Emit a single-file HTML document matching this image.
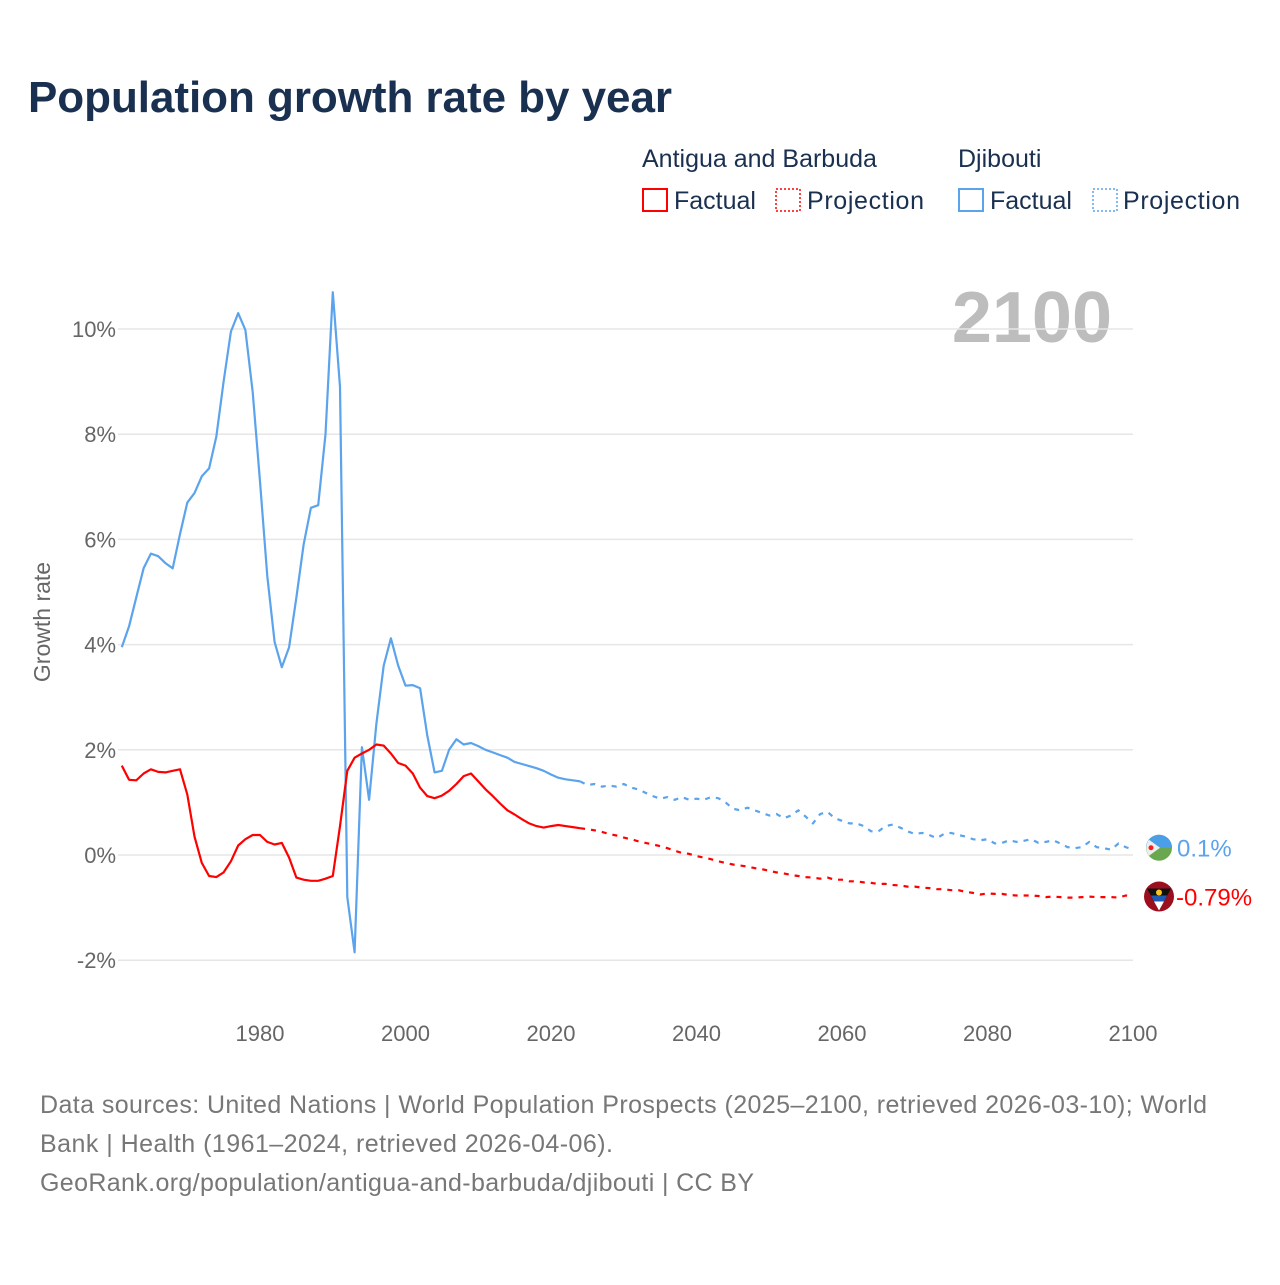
<!DOCTYPE html>
<html><head><meta charset="utf-8"><style>
body{margin:0;background:#fff;font-family:"Liberation Sans",sans-serif;}
svg text{font-family:"Liberation Sans",sans-serif;}
</style></head><body>
<svg id="c" width="1280" height="1280" viewBox="0 0 1280 1280">
<text x="28" y="112" font-size="44" font-weight="bold" fill="#1a3050" textLength="644">Population growth rate by year</text>
<g font-size="25" fill="#1a3050">
<text x="642" y="167">Antigua and Barbuda</text>
<text x="958" y="167">Djibouti</text>
<g><rect x="643" y="189" width="24" height="22" fill="none" stroke="#f00" stroke-width="2"/><text x="674" y="209">Factual</text></g>
<g><rect x="776" y="189" width="24" height="22" fill="none" stroke="#f00" stroke-width="1.5" stroke-dasharray="2,2"/><text x="807" y="209" textLength="117">Projection</text></g>
<g><rect x="959" y="189" width="24" height="22" fill="none" stroke="#5ba3ec" stroke-width="2"/><text x="990" y="209">Factual</text></g>
<g><rect x="1093" y="189" width="24" height="22" fill="none" stroke="#5ba3ec" stroke-width="1.5" stroke-dasharray="2,2"/><text x="1123" y="209" textLength="117">Projection</text></g>
</g>
<text x="1112" y="342" font-size="72" font-weight="bold" fill="#bdbdbd" text-anchor="end">2100</text>
<text transform="translate(50,622) rotate(-90)" font-size="23" fill="#666" text-anchor="middle">Growth rate</text>
<g id="grid"></g><g id="marks"></g>
<g font-size="25" fill="#777">
<text x="40" y="1113" textLength="1167">Data sources: United Nations | World Population Prospects (2025–2100, retrieved 2026-03-10); World</text>
<text x="40" y="1152" textLength="573">Bank | Health (1961–2024, retrieved 2026-04-06).</text>
<text x="40" y="1191" textLength="714">GeoRank.org/population/antigua-and-barbuda/djibouti | CC BY</text>
</g>
</svg>
<script>
const yTicks=[-2,0,2,4,6,8,10];
const xTicks=[1980,2000,2020,2040,2060,2080,2100];
const djFactual=[3.95,4.35,4.9,5.45,5.73,5.68,5.55,5.45,6.1,6.7,6.88,7.2,7.35,7.95,9.0,9.95,10.3,9.98,8.8,7.1,5.3,4.05,3.57,3.95,4.9,5.9,6.6,6.65,8.0,10.7,8.9,-0.8,-1.85,2.05,1.05,2.5,3.6,4.12,3.6,3.22,3.23,3.17,2.27,1.57,1.6,2.0,2.2,2.1,2.13,2.07,2.0,1.95,1.9,1.85,1.77,1.73,1.69,1.65,1.6,1.53,1.47,1.44,1.42,1.4];
const djProj=[1.33,1.35,1.3,1.32,1.3,1.35,1.28,1.25,1.18,1.12,1.07,1.1,1.05,1.1,1.05,1.07,1.05,1.1,1.08,1.0,0.88,0.85,0.9,0.85,0.8,0.75,0.78,0.7,0.75,0.85,0.73,0.6,0.78,0.82,0.7,0.65,0.6,0.6,0.55,0.45,0.45,0.55,0.58,0.52,0.45,0.4,0.42,0.38,0.32,0.4,0.42,0.38,0.35,0.3,0.28,0.3,0.22,0.23,0.28,0.25,0.27,0.3,0.23,0.25,0.28,0.22,0.15,0.13,0.15,0.25,0.15,0.13,0.1,0.22,0.15,0.1];
const agFactual=[1.7,1.43,1.42,1.55,1.63,1.58,1.57,1.6,1.63,1.15,0.35,-0.15,-0.4,-0.42,-0.33,-0.12,0.18,0.3,0.38,0.38,0.25,0.2,0.23,-0.05,-0.43,-0.47,-0.49,-0.49,-0.45,-0.4,0.55,1.6,1.85,1.93,2.0,2.1,2.08,1.93,1.75,1.7,1.55,1.28,1.12,1.08,1.13,1.22,1.35,1.5,1.55,1.4,1.25,1.12,0.98,0.85,0.77,0.68,0.6,0.55,0.52,0.55,0.57,0.55,0.53,0.51];
const agProj=[0.49,0.47,0.44,0.4,0.37,0.33,0.3,0.26,0.23,0.2,0.17,0.13,0.08,0.04,0.02,-0.02,-0.05,-0.08,-0.12,-0.15,-0.18,-0.2,-0.22,-0.25,-0.27,-0.3,-0.33,-0.35,-0.38,-0.4,-0.42,-0.43,-0.45,-0.43,-0.47,-0.47,-0.5,-0.5,-0.52,-0.53,-0.55,-0.55,-0.57,-0.58,-0.6,-0.6,-0.62,-0.63,-0.65,-0.65,-0.67,-0.67,-0.7,-0.72,-0.75,-0.73,-0.74,-0.74,-0.76,-0.77,-0.77,-0.77,-0.78,-0.8,-0.79,-0.8,-0.81,-0.81,-0.8,-0.79,-0.8,-0.8,-0.8,-0.81,-0.77,-0.79];
const X=y=>260+(y-1980)*(1133-260)/120;
const Y=v=>855-v*52.6;
const NS="http://www.w3.org/2000/svg";
function mk(t,a,p){const e=document.createElementNS(NS,t);for(const k in a)e.setAttribute(k,a[k]);p.appendChild(e);return e;}
const grid=document.getElementById('grid'),marks=document.getElementById('marks');
yTicks.forEach(v=>{
 const l=mk('line',{x1:118,x2:1133,y1:Y(v),y2:Y(v),stroke:'#e6e6e6','stroke-width':1.5},grid);
 
 
 const t=mk('text',{x:116,y:Y(v)+8,'font-size':22,fill:'#666','text-anchor':'end'},grid);
 t.textContent=v+'%';
 
 
});
xTicks.forEach(v=>{
 const t=mk('text',{x:X(v),y:1041,'font-size':22,fill:'#666','text-anchor':'middle'},grid);
 t.textContent=v;
 
 
});
function line(arr,start,color,dash,name){
 const pts=arr.map((v,i)=>X(start+i).toFixed(1)+','+Y(v).toFixed(1)).join(' ');
 const a={points:pts,fill:'none',stroke:color,'stroke-width':2.2,'stroke-linejoin':'round'};
 if(dash)a['stroke-dasharray']='5,6';
 const p=mk('polyline',a,marks);
 
 
}
line(djFactual,1961,'#5ba3ec',false,'djibouti-factual-line');
line([djFactual[djFactual.length-1]].concat(djProj),2024,'#5ba3ec',true,'djibouti-projection-line');
line(agFactual,1961,'#f00',false,'antigua-factual-line');
line([agFactual[agFactual.length-1]].concat(agProj),2024,'#f00',true,'antigua-projection-line');
const dj=djProj[djProj.length-1],ag=agProj[agProj.length-1];
const gd=mk('g',{},marks);


const cy1=Y(dj)-2,cx=1159;
mk('circle',{cx:cx,cy:cy1,r:13,fill:'#6aa84f'},gd);
mk('path',{d:`M${cx-13},${cy1} A13,13 0 0 1 ${cx+13},${cy1} Z`,fill:'#4a9fe8'},gd);
mk('path',{d:`M${cx-10},${cy1-8} L${cx+1},${cy1} L${cx-10},${cy1+8} A13,13 0 0 1 ${cx-10},${cy1-8}Z`,fill:'#eee'},gd);
mk('circle',{cx:cx-8,cy:cy1,r:2.5,fill:'#e22'},gd);
const tl=mk('text',{x:1177,y:cy1+9,'font-size':24,fill:'#5ba3ec'},marks);
tl.textContent=dj+'%';


const ga=mk('g',{},marks);


const cy2=Y(ag);
mk('circle',{cx:cx,cy:cy2,r:15,fill:'#9b0e1e'},ga);
mk('path',{d:`M${cx-12},${cy2-8} L${cx+12},${cy2-8} L${cx},${cy2+14}Z`,fill:'#111'},ga);
mk('path',{d:`M${cx-8},${cy2-1} L${cx+8},${cy2-1} L${cx+5},${cy2+5} L${cx-5},${cy2+5}Z`,fill:'#1e5bb5'},ga);
mk('path',{d:`M${cx-5},${cy2+5} L${cx+5},${cy2+5} L${cx},${cy2+14}Z`,fill:'#fff'},ga);
mk('circle',{cx:cx,cy:cy2-4,r:3,fill:'#f7c51d'},ga);
const ta=mk('text',{x:1176,y:cy2+9,'font-size':24,fill:'#f00'},marks);
ta.textContent=ag+'%';


</script>
</body></html>
